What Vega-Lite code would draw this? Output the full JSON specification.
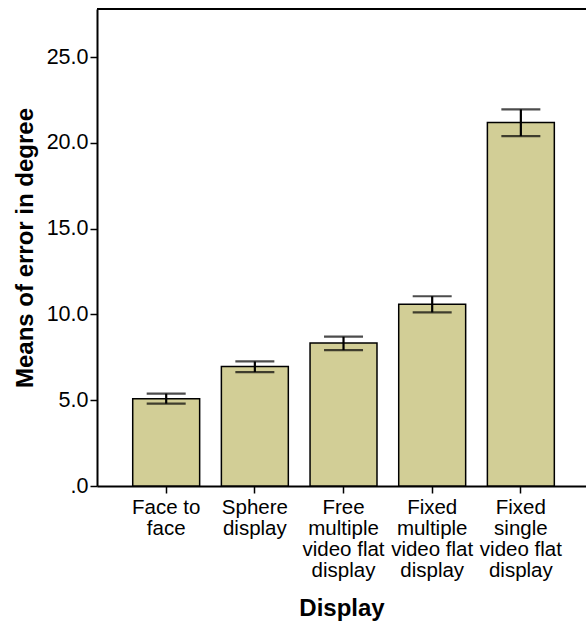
{
  "$schema": "https://vega.github.io/schema/vega-lite/v6.json",
  "width": 489,
  "height": 477,
  "autosize": {"type": "none"},
  "padding": {"left": 97, "top": 9, "right": 0, "bottom": 135},
  "background": "white",
  "config": {
    "view": {"stroke": null},
    "font": "Liberation Sans",
    "axis": {
      "domainColor": "black",
      "domainWidth": 2,
      "tickColor": "black",
      "tickWidth": 1.5,
      "tickSize": 7,
      "labelColor": "black",
      "titleColor": "black",
      "labelFont": "Liberation Sans",
      "titleFont": "Liberation Sans",
      "labelFontSize": 20.5,
      "titleFontSize": 24,
      "titleFontWeight": "bold",
      "grid": false
    }
  },
  "datasets": {
    "bars": [
      {"display": "Face to face", "mean": 5.09, "lo": 4.80, "hi": 5.38},
      {"display": "Sphere display", "mean": 6.97, "lo": 6.64, "hi": 7.26},
      {"display": "Free multiple video flat display", "mean": 8.33, "lo": 7.92, "hi": 8.70},
      {"display": "Fixed multiple video flat display", "mean": 10.59, "lo": 10.12, "hi": 11.06},
      {"display": "Fixed single video flat display", "mean": 21.19, "lo": 20.39, "hi": 21.95}
    ],
    "frame": [{"top": 27.8}]
  },
  "layer": [
    {
      "data": {"name": "bars"},
      "mark": {"type": "bar", "fill": "#D2CE96", "stroke": "black", "strokeWidth": 1.5},
      "encoding": {
        "x": {
          "field": "display",
          "type": "nominal",
          "sort": null,
          "scale": {"paddingInner": 0.245, "paddingOuter": 0.38, "align": 0.53},
          "axis": {
            "title": "Display",
            "labelAngle": 0,
            "labelPadding": 4,
            "labelLineHeight": 21,
            "labelBaseline": "top",
            "titlePadding": 16,
            "labelExpr": "datum.value == 'Face to face' ? ['Face to', 'face'] : datum.value == 'Sphere display' ? ['Sphere', 'display'] : datum.value == 'Free multiple video flat display' ? ['Free', 'multiple', 'video flat', 'display'] : datum.value == 'Fixed multiple video flat display' ? ['Fixed', 'multiple', 'video flat', 'display'] : ['Fixed', 'single', 'video flat', 'display']"
          }
        },
        "y": {
          "field": "mean",
          "type": "quantitative",
          "scale": {"domain": [0, 27.8], "nice": false},
          "axis": {
            "title": "Means of error in degree",
            "values": [0, 5, 10, 15, 20, 25],
            "labelPadding": 2,
            "labelFontSize": 21.5,
            "titlePadding": 9,
            "labelExpr": "datum.value == 0 ? '.0' : format(datum.value, '.1f')"
          }
        }
      }
    },
    {
      "data": {"name": "bars"},
      "mark": {"type": "rule", "color": "black", "strokeWidth": 2.2},
      "encoding": {
        "x": {"field": "display", "type": "nominal", "sort": null},
        "y": {"field": "lo", "type": "quantitative"},
        "y2": {"field": "hi"}
      }
    },
    {
      "data": {"name": "bars"},
      "mark": {"type": "tick", "color": "black", "thickness": 2.2, "size": 39},
      "encoding": {
        "x": {"field": "display", "type": "nominal", "sort": null},
        "y": {"field": "lo", "type": "quantitative"}
      }
    },
    {
      "data": {"name": "bars"},
      "mark": {"type": "tick", "color": "black", "thickness": 2.2, "size": 39},
      "encoding": {
        "x": {"field": "display", "type": "nominal", "sort": null},
        "y": {"field": "hi", "type": "quantitative"}
      }
    },
    {
      "data": {"name": "frame"},
      "mark": {"type": "rule", "color": "black", "strokeWidth": 2},
      "encoding": {"y": {"field": "top", "type": "quantitative"}}
    }
  ]
}
